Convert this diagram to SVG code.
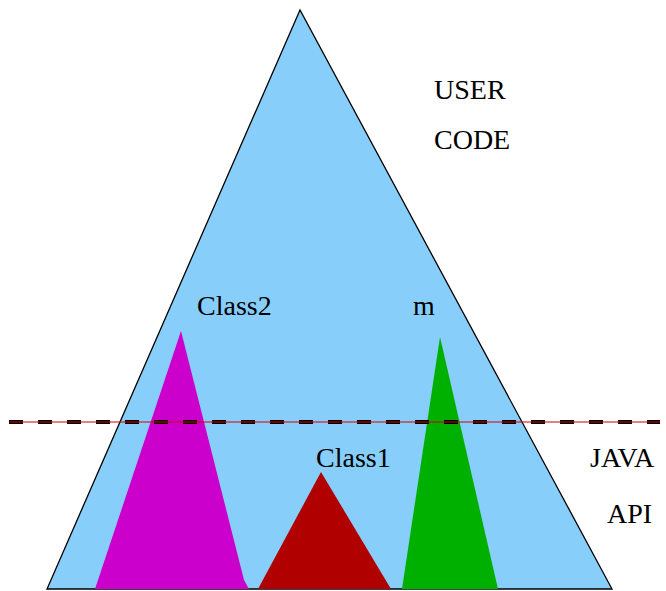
<svg xmlns="http://www.w3.org/2000/svg" width="666" height="591" viewBox="0 0 666 591">
  <style>
    .lbl { font-family: "Liberation Serif", "Times New Roman", serif; font-size: 28px; fill: #000; }
    .outline { fill: #87cefa; stroke: #000; stroke-width: 1.3; }
  </style>
  <rect width="666" height="591" fill="#fff"/>

  <g id="user-code">
    <polygon class="outline" points="300,10 47,589 612,589"/>
    <text class="lbl" x="434" y="99">USER</text>
    <text class="lbl" x="434" y="149">CODE</text>
  </g>

  <g id="class2">
    <polygon fill="#cc00cc" points="181,331 95,589 249,589 244,580"/>
    <text class="lbl" x="197" y="315">Class2</text>
  </g>

  <g id="class1">
    <polygon fill="#b00000" points="321,472 258,589 391,589"/>
    <text class="lbl" x="316" y="467">Class1</text>
  </g>

  <g id="m">
    <polygon fill="#00b000" points="440,337 402,589 498,589"/>
    <text class="lbl" x="413" y="315">m</text>
  </g>

  <g id="api-boundary">
    <line x1="9" y1="422" x2="660" y2="422" stroke="#000" stroke-width="4" stroke-dasharray="14 15"/>
    <line x1="9" y1="422" x2="660" y2="422" stroke="#d00000" stroke-width="1"/>
    <text class="lbl" x="590" y="467">JAVA</text>
    <text class="lbl" x="607" y="523">API</text>
  </g>
</svg>
